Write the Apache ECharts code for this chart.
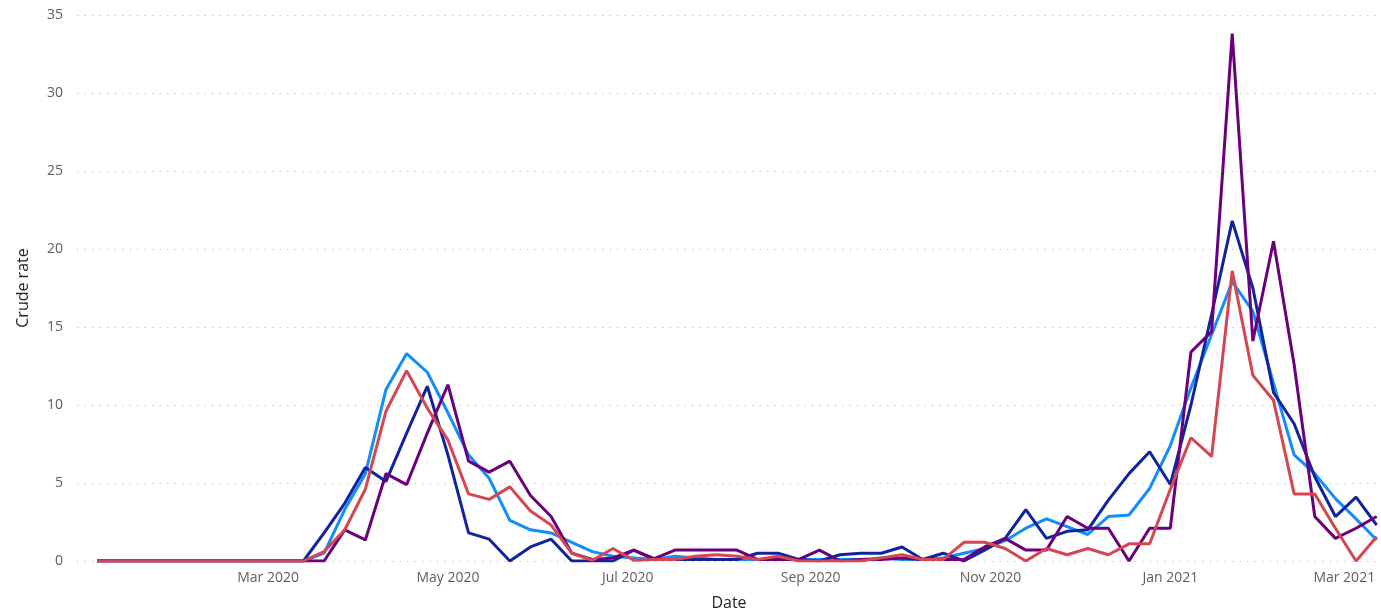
<!DOCTYPE html>
<html>
<head>
<meta charset="utf-8">
<script src="https://cdn.jsdelivr.net/npm/echarts@6/dist/echarts.min.js"></script>
<style>
html,body{margin:0;padding:0;background:#fff;}
#chart{width:1381px;height:616px;}
</style>
</head>
<body>
<div id="chart"></div>
<script>
// Weekly dates (Fridays)
const dates = [
 '2020-01-03','2020-01-10','2020-01-17','2020-01-24','2020-01-31',
 '2020-02-07','2020-02-14','2020-02-21','2020-02-28',
 '2020-03-06','2020-03-13','2020-03-20','2020-03-27',
 '2020-04-03','2020-04-10','2020-04-17','2020-04-24',
 '2020-05-01','2020-05-08','2020-05-15','2020-05-22','2020-05-29',
 '2020-06-05','2020-06-12','2020-06-19','2020-06-26',
 '2020-07-03','2020-07-10','2020-07-17','2020-07-24','2020-07-31',
 '2020-08-07','2020-08-14','2020-08-21','2020-08-28',
 '2020-09-04','2020-09-11','2020-09-18','2020-09-25',
 '2020-10-02','2020-10-09','2020-10-16','2020-10-23','2020-10-30',
 '2020-11-06','2020-11-13','2020-11-20','2020-11-27',
 '2020-12-04','2020-12-11','2020-12-18','2020-12-25',
 '2021-01-01','2021-01-08','2021-01-15','2021-01-22','2021-01-29',
 '2021-02-05','2021-02-12','2021-02-19','2021-02-26',
 '2021-03-05','2021-03-12'
];

const lightBlue = [0,0,0,0,0,0,0,0,0,0,0,
 0.5,3.3,5.6,11.0,13.3,12.1,9.5,6.8,5.3,2.6,2.0,1.8,1.2,0.6,0.3,
 0.2,0.1,0.3,0.2,0.1,0.1,0.1,0.1,0.1,0.1,0.1,0.1,0.2,0.1,0.1,0.2,
 0.5,0.8,1.3,2.1,2.7,2.2,1.7,2.85,2.95,4.65,7.4,
 11.1,14.5,17.9,16.0,11.4,6.8,5.6,4.0,2.7,1.35];

const navy = [0,0,0,0,0,0,0,0,0,0,0,
 1.8,3.7,6.0,5.1,8.2,11.2,6.8,1.8,1.4,0.0,0.9,1.4,0,0,0,
 0.7,0.1,0.1,0.1,0.1,0.1,0.5,0.5,0.1,0.0,0.4,0.5,0.5,0.9,0.1,0.5,
 0.0,0.7,1.45,3.3,1.45,1.9,2.0,3.9,5.6,7.0,4.9,
 10.0,15.8,21.8,17.5,10.8,8.8,5.4,2.85,4.1,2.3];

const purple = [0,0,0,0,0,0,0,0,0,0,0,
 0,2.0,1.35,5.6,4.9,8.2,11.3,6.4,5.7,6.4,4.2,2.85,0.5,0.1,0.2,
 0.7,0.15,0.7,0.7,0.7,0.7,0.1,0.1,0.1,0.7,0.0,0.1,0.1,0.2,0.1,0.1,
 0.1,0.9,1.45,0.7,0.7,2.85,2.1,2.1,0.0,2.1,2.1,
 13.4,14.7,33.8,14.1,20.5,12.6,2.85,1.45,2.1,2.85];

const red = [0,0,0,0,0,0,0,0,0,0,0,
 0.6,2.0,4.6,9.6,12.2,9.8,7.75,4.3,3.95,4.75,3.2,2.3,0.5,0.05,0.8,
 0.05,0.1,0.1,0.3,0.4,0.3,0.1,0.3,0.0,0.0,0.0,0.0,0.2,0.4,0.1,0.1,
 1.2,1.2,0.8,0.0,0.8,0.4,0.8,0.4,1.1,1.1,4.6,
 7.9,6.7,18.6,11.9,10.3,4.3,4.3,2.1,0.0,1.55];

const monthNames = ['Jan','Feb','Mar','Apr','May','Jun','Jul','Aug','Sep','Oct','Nov','Dec'];
const yTicks = [0,5,10,15,20,25,30,35];

const DAY = 86400000;
const t0 = new Date(2020,0,3).getTime();
const t1 = new Date(2021,2,12).getTime();
const firstLabel = new Date(2020,1,1).getTime();

function pairs(vals){ return dates.map((d,i)=>[d, vals[i]]); }

const font = "'Segoe UI', 'Open Sans', sans-serif";
const chart = echarts.init(document.getElementById('chart'));
chart.setOption({
  animation:false,
  textStyle:{fontFamily:font},
  grid:{left:77, right:0, top:15, bottom:55, containLabel:false},
  xAxis:{
    type:'time',
    min: t0 - 6.8*DAY,
    max: t1 + 1.46*DAY,
    minInterval: 28*DAY,
    maxInterval: 31*DAY,
    name:'Date', nameLocation:'middle', nameGap:34,
    nameTextStyle:{color:'#252423', fontSize:16, fontFamily:font},
    axisLine:{show:false}, axisTick:{show:false},
    splitLine:{show:false},
    axisLabel:{
      color:'#605E5C', fontSize:14, fontFamily:font, margin:10,
      hideOverlap:false,
      formatter:function(v){
        const d = new Date(v);
        if (v < firstLabel || d.getDate()!==1 || d.getMonth()%2!==0) return '';
        return monthNames[d.getMonth()]+' '+d.getFullYear();
      }
    }
  },
  yAxis:{
    type:'value', min:yTicks[0], max:yTicks[yTicks.length-1], interval:5,
    name:'Crude rate', nameLocation:'middle', nameGap:46,
    nameTextStyle:{color:'#252423', fontSize:16, fontFamily:font},
    axisLine:{show:false}, axisTick:{show:false},
    axisLabel:{color:'#605E5C', fontSize:14, fontFamily:font, margin:14},
    splitLine:{show:true, lineStyle:{color:'#C8C8C8', type:[1.5,6], width:1}}
  },
  series:[
    {name:'A', type:'line', data:pairs(lightBlue), showSymbol:false, lineStyle:{color:'#118DFF', width:3}, itemStyle:{color:'#118DFF'}},
    {name:'B', type:'line', data:pairs(navy), showSymbol:false, lineStyle:{color:'#12239E', width:3}, itemStyle:{color:'#12239E'}},
    {name:'C', type:'line', data:pairs(purple), showSymbol:false, lineStyle:{color:'#6B007B', width:3}, itemStyle:{color:'#6B007B'}},
    {name:'D', type:'line', data:pairs(red), showSymbol:false, lineStyle:{color:'#D64550', width:3}, itemStyle:{color:'#D64550'}}
  ]
});
</script>
</body>
</html>
